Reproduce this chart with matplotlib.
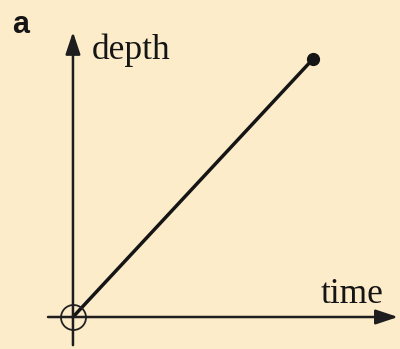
import matplotlib.pyplot as plt

# depth grows linearly with time
time = [0.0, 1.0]
depth = [0.0, 1.0]

bg = '#fdecca'
ink = '#151515'

fig = plt.figure(figsize=(4.0, 3.49), dpi=100, facecolor=bg)
ax = fig.add_axes([0, 0, 1, 1], facecolor=bg)
ax.set_xlim(-0.304, 1.3625)
ax.set_ylim(-0.124, 1.2287)
ax.axis('off')

# axes with arrow heads
arrow = dict(arrowstyle='-|>,head_length=0.9,head_width=0.3', color='#1e1e1e', lw=1.8,
             mutation_scale=15, shrinkA=0, shrinkB=0)
ax.annotate('', xy=(1.354, 0), xytext=(-0.104, 0), arrowprops=arrow)
ax.annotate('', xy=(0, 1.105), xytext=(0, -0.109), arrowprops=arrow)

# the line, its end point and the circled origin
ax.plot(time, depth, color=ink, lw=2.5, solid_capstyle='round')
ax.plot(time[-1], depth[-1], 'o', color=ink, ms=8.5)
ax.plot(time[0], depth[0], 'o', mfc='none', mec='#222222', ms=18, mew=1.3)

ax.text(0.079, 1.035, 'depth', family='Liberation Serif', fontsize=25.5,
        va='center', ha='left', color=ink)
ax.text(1.03, 0.088, 'time', family='Liberation Serif', fontsize=25.5,
        va='center', ha='left', color=ink)
ax.text(-0.254, 1.10, 'a', family='Liberation Sans', weight='heavy', fontsize=22,
        va='baseline', ha='left', color=ink)

fig.savefig('out.png', dpi=100, facecolor=bg)
